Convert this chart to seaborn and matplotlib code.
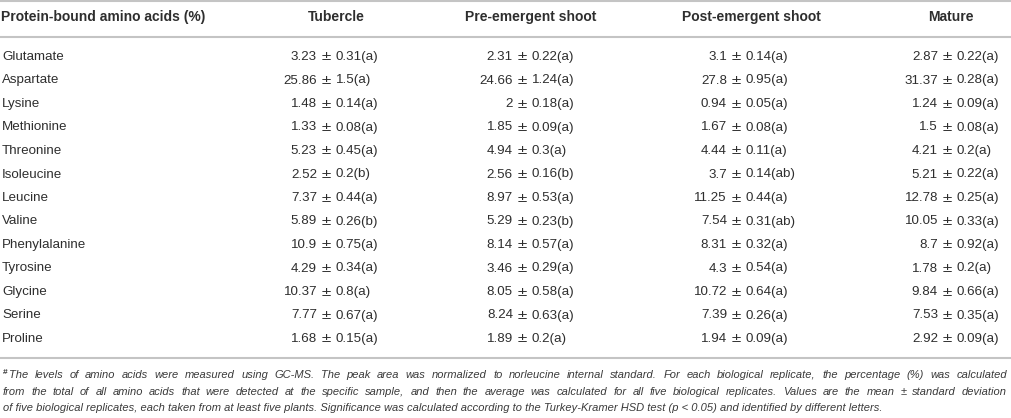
import matplotlib
matplotlib.use("Agg")
import matplotlib.pyplot as plt
import seaborn as sns

# ---------------- data ----------------
amino_acids = ["Glutamate", "Aspartate", "Lysine", "Methionine", "Threonine",
               "Isoleucine", "Leucine", "Valine", "Phenylalanine", "Tyrosine",
               "Glycine", "Serine", "Proline"]
stages = ["Tubercle", "Pre-emergent shoot", "Post-emergent shoot", "Mature"]
row_header = "Protein-bound amino acids (%)"

tubercle_mean = [3.23, 25.86, 1.48, 1.33, 5.23, 2.52, 7.37, 5.89, 10.9, 4.29, 10.37, 7.77, 1.68]
tubercle_sd = [0.31, 1.5, 0.14, 0.08, 0.45, 0.2, 0.44, 0.26, 0.75, 0.34, 0.8, 0.67, 0.15]
tubercle_sig = ["a", "a", "a", "a", "a", "b", "a", "b", "a", "a", "a", "a", "a"]

pre_mean = [2.31, 24.66, 2, 1.85, 4.94, 2.56, 8.97, 5.29, 8.14, 3.46, 8.05, 8.24, 1.89]
pre_sd = [0.22, 1.24, 0.18, 0.09, 0.3, 0.16, 0.53, 0.23, 0.57, 0.29, 0.58, 0.63, 0.2]
pre_sig = ["a", "a", "a", "a", "a", "b", "a", "b", "a", "a", "a", "a", "a"]

post_mean = [3.1, 27.8, 0.94, 1.67, 4.44, 3.7, 11.25, 7.54, 8.31, 4.3, 10.72, 7.39, 1.94]
post_sd = [0.14, 0.95, 0.05, 0.08, 0.11, 0.14, 0.44, 0.31, 0.32, 0.54, 0.64, 0.26, 0.09]
post_sig = ["a", "a", "a", "a", "a", "ab", "a", "ab", "a", "a", "a", "a", "a"]

mature_mean = [2.87, 31.37, 1.24, 1.5, 4.21, 5.21, 12.78, 10.05, 8.7, 1.78, 9.84, 7.53, 2.92]
mature_sd = [0.22, 0.28, 0.09, 0.08, 0.2, 0.22, 0.25, 0.33, 0.92, 0.2, 0.66, 0.35, 0.09]
mature_sig = ["a", "a", "a", "a", "a", "a", "a", "a", "a", "a", "a", "a", "a"]

footnote_lines = [
    "The levels of amino acids were measured using GC-MS. The peak area was normalized to norleucine internal standard. For each biological replicate, the percentage (%) was calculated",
    "from the total of all amino acids that were detected at the specific sample, and then the average was calculated for all five biological replicates. Values are the mean \u00b1 standard deviation",
    "of five biological replicates, each taken from at least five plants. Significance was calculated according to the Turkey-Kramer HSD test (p < 0.05) and identified by different letters.",
]

# ---------------- style ----------------
sns.set_theme(style="white")
plt.rcParams["font.family"] = ["Liberation Sans", "DejaVu Sans"]

TEXT = "#2e2e2e"
NOTE = "#3a3a3a"
RULE = "#c4c4c4"
W, H = 1012, 418

fig = plt.figure(figsize=(W / 100, H / 100), dpi=100)
ax = fig.add_axes([0, 0, 1, 1])
ax.set_xlim(0, W)
ax.set_ylim(H, 0)
ax.axis("off")

# layout
header_y = 17
row0_y = 57
row_step = 23.5
pm_c = [326, 522, 736, 947]          # centre of the ± sign per column
head_x = [336, 531, 751, 951]        # header centres
fs = 9.6
fs_head = 10.0

# rules
for yy in (1, 37, 358):
    ax.plot([0, W], [yy, yy], color=RULE, lw=1.5, solid_capstyle="butt")

# header
ax.text(1, header_y, row_header, ha="left", va="center", fontsize=fs_head, fontweight="bold", color=TEXT)
for hx, st in zip(head_x, stages):
    ax.text(hx, header_y, st, ha="center", va="center", fontsize=fs_head, fontweight="bold", color=TEXT)

columns = [
    (tubercle_mean, tubercle_sd, tubercle_sig),
    (pre_mean, pre_sd, pre_sig),
    (post_mean, post_sd, post_sig),
    (mature_mean, mature_sd, mature_sig),
]

for i, name in enumerate(amino_acids):
    y = row0_y + i * row_step
    ax.text(2, y, name, ha="left", va="center", fontsize=fs, color=TEXT)
    for (means, sds, sigs), c in zip(columns, pm_c):
        ax.text(c - 9, y, f"{means[i]:g}", ha="right", va="center", fontsize=fs, color=TEXT)
        ax.text(c, y, "\u00b1", ha="center", va="center", fontsize=fs, color=TEXT,
                family="DejaVu Sans")
        ax.text(c + 10, y, f"{sds[i]:g}({sigs[i]})", ha="left", va="center", fontsize=fs, color=TEXT)

# footnote (justified first two lines)
fig.canvas.draw()
renderer = fig.canvas.get_renderer()
note_fs = 8.0
note_y = [375, 392, 408]
x_start = 9
x_end = 1007
ax.text(3, note_y[0] - 3, "#", ha="left", va="center", fontsize=6,
        fontweight="bold", color=NOTE)
for li, line in enumerate(footnote_lines):
    x0 = x_start if li == 0 else 3
    y = note_y[li]
    if li < 2:
        words = line.split(" ")
        widths = []
        for wd in words:
            t = ax.text(0, 0, wd, fontsize=note_fs, style="italic")
            bb = t.get_window_extent(renderer=renderer)
            widths.append(bb.width)
            t.remove()
        gap = (x_end - x0 - sum(widths)) / (len(words) - 1)
        x = x0
        for wd, w_ in zip(words, widths):
            ax.text(x, y, wd, ha="left", va="center", fontsize=note_fs, style="italic", color=NOTE)
            x += w_ + gap
    else:
        ax.text(x0, y, line, ha="left", va="center", fontsize=note_fs, style="italic", color=NOTE)

fig.savefig("out.png", dpi=100, facecolor="white")
